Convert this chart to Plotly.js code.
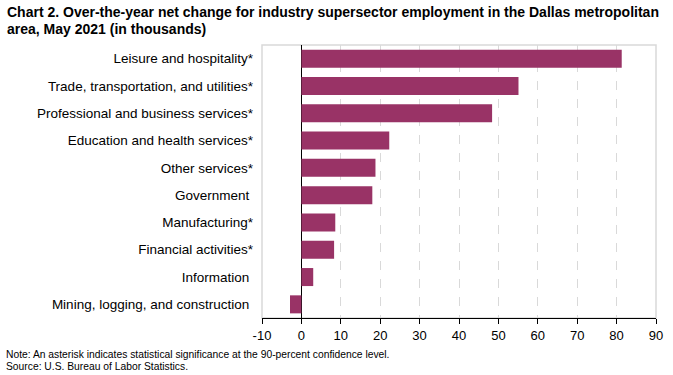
<!DOCTYPE html>
<html>
<head>
<meta charset="utf-8">
<script src="https://cdn.plot.ly/plotly-3.0.1.min.js"></script>
<style>body{margin:0;padding:0;background:#fff}#chart{width:673px;height:375px}</style>
</head>
<body>
<div id="chart"></div>
<script>
const categories = [
  "Leisure and hospitality*",
  "Trade, transportation, and utilities*",
  "Professional and business services*",
  "Education and health services*",
  "Other services*",
  "Government ",
  "Manufacturing*",
  "Financial activities*",
  "Information ",
  "Mining, logging, and construction "
];
const values = [81.3, 55.1, 48.4, 22.3, 18.8, 18.0, 8.6, 8.3, 3.0, -2.9];
const tickVals = [-10, 0, 10, 20, 30, 40, 50, 60, 70, 80, 90];
const tickText = ["-10", "0", "10", "20", "30", "40", "50", "60", "70", "80", "90"];

const trace = {
  type: 'bar',
  orientation: 'h',
  y: categories,
  x: values,
  marker: {color: '#993366'},
  width: 0.66,
  hoverinfo: 'x+y'
};

const PW = 673 - 262 - 17, PH = 375 - 45 - 57;
const layout = {
  width: 673, height: 375,
  margin: {l: 262, r: 17, t: 45, b: 57},
  paper_bgcolor: '#fff', plot_bgcolor: '#fff',
  font: {family: 'Liberation Sans, Arial, sans-serif', size: 13, color: '#000'},
  xaxis: {
    range: [-10, 90],
    tickvals: tickVals, ticktext: tickText,
    showgrid: true, gridcolor: '#d9d9d9', griddash: 'dash', gridwidth: 1,
    zeroline: true, zerolinecolor: '#000', zerolinewidth: 1.5,
    showline: true, linecolor: '#000', linewidth: 1,
    ticks: 'outside', ticklen: 5, tickcolor: '#000',
    tickfont: {size: 13}
  },
  yaxis: {
    autorange: 'reversed',
    showgrid: false, zeroline: false,
    showline: false,
    ticks: '', ticklabelstandoff: 8,
    tickfont: {size: 13.5}
  },
  shapes: [
    {type: 'rect', xref: 'paper', yref: 'paper', x0: 0, x1: 1, y0: 0, y1: 1,
     line: {color: '#d9d9d9', width: 1.5}, layer: 'below'}
  ],
  annotations: [
    {text: '<b>Chart 2. Over-the-year net change for industry supersector employment in the Dallas metropolitan</b>',
     xref: 'paper', yref: 'paper', x: -257/PW, y: 1 + (45 - 12)/PH, xanchor: 'left', yanchor: 'middle',
     align: 'left', showarrow: false, font: {size: 14}},
    {text: '<b>area, May 2021 (in thousands)</b>',
     xref: 'paper', yref: 'paper', x: -257/PW, y: 1 + (45 - 29)/PH, xanchor: 'left', yanchor: 'middle',
     align: 'left', showarrow: false, font: {size: 14}},
    {text: 'Note: An asterisk indicates statistical significance at the 90-percent confidence level.',
     xref: 'paper', yref: 'paper', x: -258/PW, y: -(354 - 318)/PH, xanchor: 'left', yanchor: 'middle',
     align: 'left', showarrow: false, font: {size: 10.3}},
    {text: 'Source: U.S. Bureau of Labor Statistics.',
     xref: 'paper', yref: 'paper', x: -258/PW, y: -(366 - 318)/PH, xanchor: 'left', yanchor: 'middle',
     align: 'left', showarrow: false, font: {size: 10.3}}
  ],
  showlegend: false
};

Plotly.newPlot('chart', [trace], layout, {displayModeBar: false, staticPlot: true});
</script>
</body>
</html>
